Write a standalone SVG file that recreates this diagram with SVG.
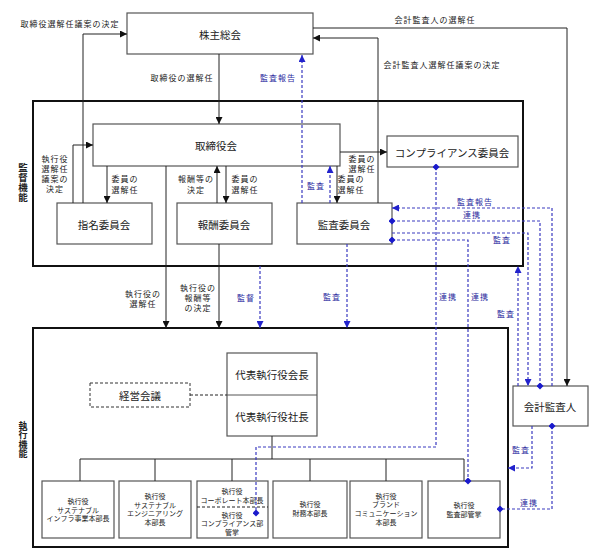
<svg xmlns="http://www.w3.org/2000/svg" width="601" height="558" viewBox="0 0 601 558">
<defs>
<style>
text{font-family:"Noto Sans CJK JP","Noto Sans",sans-serif;fill:#222;text-anchor:middle;dominant-baseline:central}
.big{font-size:10.5px}
.sm{font-size:8px;letter-spacing:1px}
.bt{font-size:7px}
.blt{fill:#2b2ba0}
.vt{font-size:9.5px;font-weight:bold;writing-mode:vertical-rl;letter-spacing:0.5px}
.box{fill:#fff;stroke:#555;stroke-width:1.2}
.frame{fill:none;stroke:#111;stroke-width:2}
.ln{fill:none;stroke:#222;stroke-width:1}
.dash{fill:none;stroke:#222;stroke-width:1;stroke-dasharray:3 2}
.bl{fill:none;stroke:#3a3ac0;stroke-width:1.2;stroke-dasharray:3 2}
</style>
<marker id="ah" markerUnits="userSpaceOnUse" markerWidth="7" markerHeight="7" refX="7" refY="3.5" orient="auto"><path d="M0,0 L7,3.5 L0,7 z" fill="#111"/></marker>
<marker id="bah" markerUnits="userSpaceOnUse" markerWidth="7" markerHeight="7" refX="7" refY="3.5" orient="auto"><path d="M0,0 L7,3.5 L0,7 z" fill="#2222cc"/></marker>
<marker id="dm" markerUnits="userSpaceOnUse" markerWidth="7" markerHeight="7" refX="3.5" refY="3.5" orient="auto"><path d="M0,3.5 L3.5,0 L7,3.5 L3.5,7 z" fill="#1a1acc"/></marker>
</defs>
<rect width="601" height="558" fill="#fff"/>

<g id="frames">
<rect class="frame" x="33" y="101" width="490" height="165"/>
<rect class="frame" x="33" y="328" width="475" height="219"/>
<text class="vt" x="23" y="183">監督機能</text>
<text class="vt" x="23" y="440" style="font-size:9px">執行機能</text>
</g>

<g id="shareholders"><rect class="box" x="127" y="13" width="186" height="41"/><text class="big" x="220" y="34">株主総会</text></g>
<g id="board"><rect class="box" x="93" y="124" width="247" height="42"/><text class="big" x="216" y="145">取締役会</text></g>
<g id="nomination"><rect class="box" x="57" y="203" width="95" height="41"/><text class="big" x="104" y="224">指名委員会</text></g>
<g id="compensation"><rect class="box" x="177" y="203" width="95" height="41"/><text class="big" x="224" y="224">報酬委員会</text></g>
<g id="audit"><rect class="box" x="297" y="203" width="95" height="41"/><text class="big" x="344" y="224">監査委員会</text></g>
<g id="compliance"><rect class="box" x="387" y="136" width="131" height="31"/><text class="big" x="452" y="152">コンプライアンス委員会</text></g>
<g id="accounting-auditor"><rect class="box" x="513" y="386" width="75" height="40"/><text class="big" x="550" y="406">会計監査人</text></g>
<g id="ceo"><rect class="box" x="227" y="353" width="90" height="83"/><line class="ln" x1="227" y1="395" x2="317" y2="395" style="stroke:#555"/><text class="big" x="272" y="374">代表執行役会長</text><text class="big" x="272" y="416">代表執行役社長</text></g>
<g id="management-meeting"><rect x="90" y="383" width="100" height="24" fill="#fff" stroke="#333" stroke-width="1" stroke-dasharray="3 2"/><text class="big" x="140" y="395">経営会議</text></g>

<g id="exec1"><rect class="box" x="42" y="481" width="72" height="57"/><g class="bt"><text x="78" y="501">執行役</text><text x="78" y="509.5">サステナブル</text><text x="78" y="518">インフラ事業本部長</text></g></g>
<g id="exec2"><rect class="box" x="119" y="481" width="72" height="57"/><g class="bt"><text x="155" y="496">執行役</text><text x="155" y="504.5">サステナブル</text><text x="155" y="513">エンジニアリング</text><text x="155" y="521.5">本部長</text></g></g>
<g id="exec3"><rect class="box" x="197" y="481" width="71" height="57"/><line class="dash" x1="197" y1="507" x2="268" y2="507"/><g class="bt"><text x="232" y="491">執行役</text><text x="232" y="499.5">コーポレート本部長</text><text x="232" y="514.5">執行役</text><text x="232" y="523">コンプライアンス部</text><text x="232" y="531.5">管掌</text></g></g>
<g id="exec4"><rect class="box" x="273" y="481" width="74" height="57"/><g class="bt"><text x="310" y="504">執行役</text><text x="310" y="513">財務本部長</text></g></g>
<g id="exec5"><rect class="box" x="350" y="481" width="72" height="57"/><g class="bt"><text x="386" y="495.5">執行役</text><text x="386" y="504">ブランド</text><text x="386" y="513">コミュニケーション</text><text x="386" y="521.5">本部長</text></g></g>
<g id="exec6"><rect class="box" x="428" y="481" width="72" height="57"/><g class="bt"><text x="464" y="505">執行役</text><text x="464" y="514">監査部管掌</text></g></g>

<g id="connectors">
<path class="ln" d="M83,203 V34 H127" marker-end="url(#ah)"/>
<path class="ln" d="M219,54 V124" marker-end="url(#ah)"/>
<path class="ln" d="M378,203 V38 H313" marker-end="url(#ah)"/>
<path class="ln" d="M313,28 H567 V386" marker-end="url(#ah)"/>
<path class="ln" d="M107,166 V203" marker-end="url(#ah)"/>
<path class="ln" d="M73,203 V145 H93" marker-end="url(#ah)"/>
<path class="ln" d="M226,166 V203" marker-end="url(#ah)"/>
<path class="ln" d="M217,203 V166" marker-end="url(#ah)"/>
<path class="ln" d="M337,166 V203" marker-end="url(#ah)"/>
<path class="ln" d="M340,152 H387" marker-end="url(#ah)"/>
<path class="ln" d="M166,166 V328" marker-end="url(#ah)"/>
<path class="ln" d="M219,244 V328" marker-end="url(#ah)"/>
<path class="ln" d="M272,436 V459 M80,459 H464 M80,459 V481 M155,459 V481 M232,459 V481 M310,459 V481 M386,459 V481 M464,459 V481"/>
<path class="dash" d="M190,395 H227"/>

<path class="bl" d="M302,203 V55" marker-end="url(#bah)"/>
<path class="bl" d="M330,203 V166" marker-end="url(#bah)"/>
<path class="bl" d="M260,266 V328" marker-end="url(#bah)"/>
<path class="bl" d="M347,244 V328" marker-end="url(#bah)"/>
<path class="bl" d="M436,167 V447 H256 V513" marker-start="url(#dm)" marker-end="url(#dm)"/>
<path class="bl" d="M392,240 H468 V481" marker-start="url(#dm)" marker-end="url(#dm)"/>
<path class="bl" d="M552,386 V208 H392" marker-end="url(#bah)"/>
<path class="bl" d="M392,221 H540 V386" marker-start="url(#dm)" marker-end="url(#dm)"/>
<path class="bl" d="M392,233 H528 V386" marker-end="url(#bah)"/>
<path class="bl" d="M518,386 V266" marker-end="url(#bah)"/>
<path class="bl" d="M532,426 V468 H508" marker-end="url(#bah)"/>
<path class="bl" d="M552,426 V509 H500" marker-start="url(#dm)" marker-end="url(#dm)"/>
</g>

<g id="labels" class="sm">
<text x="70" y="23">取締役選解任議案の決定</text>
<text x="182" y="77">取締役の選解任</text>
<text x="278" y="77" class="blt">監査報告</text>
<text x="435" y="19">会計監査人の選解任</text>
<text x="442" y="64">会計監査人選解任議案の決定</text>
<text x="55" y="158">執行役</text><text x="55" y="168">選解任</text><text x="55" y="178">議案の</text><text x="55" y="188">決定</text>
<text x="125" y="178">委員の</text><text x="125" y="189">選解任</text>
<text x="196" y="178">報酬等の</text><text x="196" y="189">決定</text>
<text x="245" y="178">委員の</text><text x="245" y="189">選解任</text>
<text x="316" y="185" class="blt">監査</text>
<text x="351" y="178">委員の</text><text x="351" y="189">選解任</text>
<text x="362" y="158">委員の</text><text x="362" y="168">選解任</text>
<text x="475" y="201" class="blt">監査報告</text>
<text x="472" y="214" class="blt">連携</text>
<text x="502" y="239" class="blt">監査</text>
<text x="143" y="293">執行役の</text><text x="143" y="303">選解任</text>
<text x="198" y="287">執行役の</text><text x="198" y="297">報酬等</text><text x="198" y="307">の決定</text>
<text x="246" y="297" class="blt">監督</text>
<text x="332" y="296" class="blt">監査</text>
<text x="448" y="296" class="blt">連携</text>
<text x="480" y="296" class="blt">連携</text>
<text x="506" y="313" class="blt">監査</text>
<text x="521" y="449" class="blt">監査</text>
<text x="529" y="502" class="blt">連携</text>
</g>
</svg>
